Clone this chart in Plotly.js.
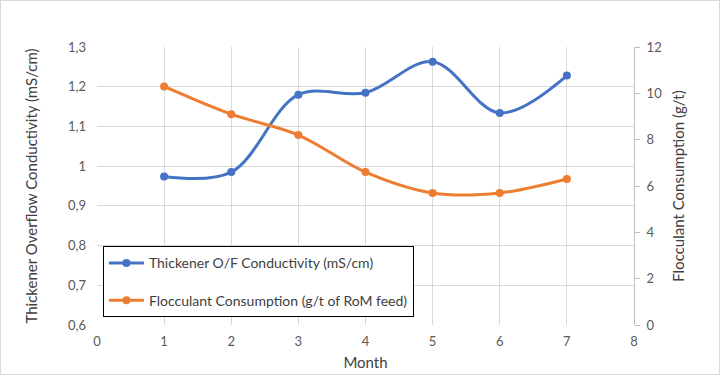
<!DOCTYPE html>
<html>
<head>
<meta charset="utf-8">
<script src="https://cdn.plot.ly/plotly-3.0.1.min.js"></script>
<style>
html,body{margin:0;padding:0;background:#fff;}
#wrap{width:720px;height:375px;box-sizing:border-box;border:1px solid #D9D9D9;overflow:hidden;}
#chart{width:718px;height:373px;}
</style>
</head>
<body>
<div id="wrap"><div id="chart"></div></div>
<script>
const months = [1, 2, 3, 4, 5, 6, 7];
const conductivity = [0.974, 0.985, 1.180, 1.185, 1.263, 1.134, 1.228];
const flocculant = [10.3, 9.1, 8.2, 6.6, 5.7, 5.7, 6.3];
const seriesNames = ['Thickener O/F Conductivity (mS/cm)', 'Flocculant Consumption (g/t of RoM feed)'];

const FONT = 'Lato, "Open Sans", sans-serif';

const traces = [
  {
    x: months, y: conductivity, name: seriesNames[0], yaxis: 'y',
    type: 'scatter', mode: 'lines+markers',
    line: {color: '#4472C4', width: 3, shape: 'spline', smoothing: 1},
    marker: {color: '#4472C4', size: 8},
    legendgroup: 'a'
  },
  {
    x: months, y: flocculant, name: seriesNames[1], yaxis: 'y2',
    type: 'scatter', mode: 'lines+markers',
    line: {color: '#ED7D31', width: 3, shape: 'spline', smoothing: 1},
    marker: {color: '#ED7D31', size: 8},
    legendgroup: 'b'
  }
];

const layout = {
  width: 718, height: 373,
  margin: {l: 96, r: 85, t: 46, b: 49},
  paper_bgcolor: '#ffffff', plot_bgcolor: '#ffffff',
  separators: ', ',
  font: {family: FONT, size: 13, color: '#595959'},
  showlegend: true,
  legend: {
    x: 0.011, y: 0.283, xanchor: 'left', yanchor: 'top',
    bgcolor: '#ffffff', bordercolor: '#000000', borderwidth: 1,
    font: {family: FONT, size: 14, color: '#404040'},
    tracegroupgap: 16, traceorder: 'grouped', itemwidth: 35
  },
  xaxis: {
    range: [0, 8], dtick: 1, tick0: 0,
    showgrid: true, gridcolor: '#D9D9D9', gridwidth: 1,
    zeroline: false, showline: false, ticks: '',
    ticklabelstandoff: 7,
    tickfont: {family: FONT, size: 13, color: '#595959'},
    title: {text: 'Month', font: {family: FONT, size: 15, color: '#404040'}, standoff: 9}
  },
  yaxis: {
    range: [0.6, 1.3], dtick: 0.1, tick0: 0.6,
    showgrid: true, gridcolor: '#D9D9D9', gridwidth: 1,
    zeroline: false, showline: false, ticks: '',
    ticklabelstandoff: 10,
    tickfont: {family: FONT, size: 13, color: '#595959'},
    title: {text: 'Thickener Overflow Conductivity (mS/cm)', font: {family: FONT, size: 15, color: '#404040'}, standoff: 26}
  },
  yaxis2: {
    overlaying: 'y', side: 'right',
    range: [0, 12], dtick: 2, tick0: 0,
    showgrid: false, zeroline: false,
    showline: true, linecolor: '#BFBFBF', linewidth: 1,
    ticks: 'outside', ticklen: 5, tickcolor: '#BFBFBF',
    ticklabelstandoff: 4,
    tickfont: {family: FONT, size: 13, color: '#595959'},
    title: {text: 'Flocculant Consumption (g/t)', font: {family: FONT, size: 15, color: '#404040'}, standoff: 12}
  }
};

Plotly.newPlot('chart', traces, layout, {displayModeBar: false, staticPlot: true});
</script>
</body>
</html>
